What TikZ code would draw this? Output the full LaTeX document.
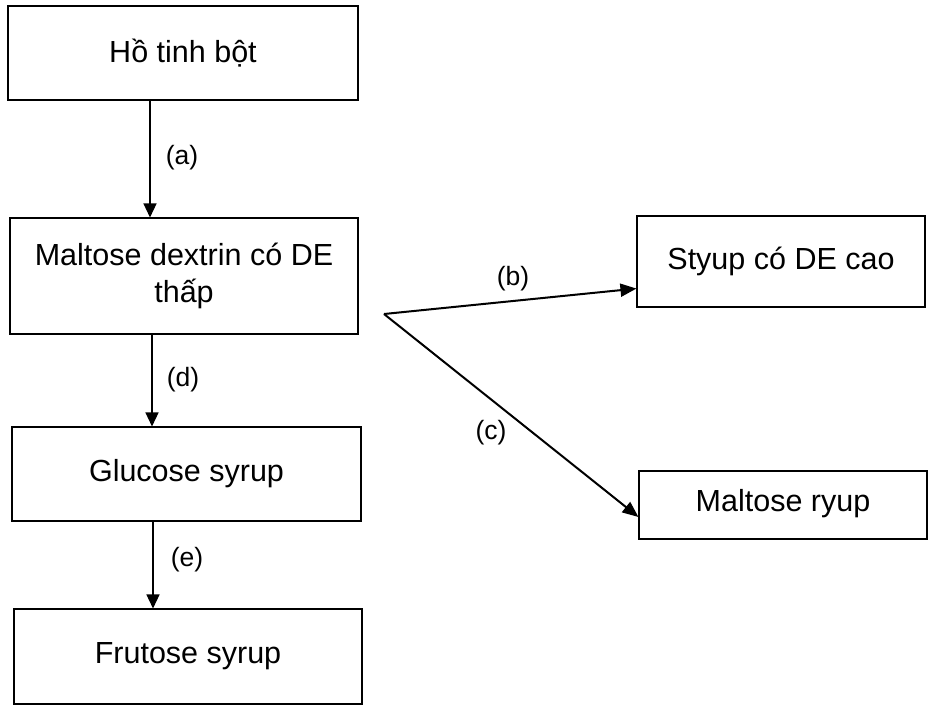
\documentclass[tikz,border=0pt]{standalone}
\usepackage{fontspec}
\setmainfont{Liberation Sans}
\usetikzlibrary{arrows.meta}
\begin{document}
\begin{tikzpicture}[x=1pt,y=-1pt,
  box/.style={draw, line width=1.1pt, inner sep=0pt, align=center, font=\fontsize{30.5}{37}\selectfont},
  lbl/.style={font=\fontsize{26.5}{32}\selectfont, inner sep=0pt},
  arr/.style={line width=1.4pt, -{Triangle[length=14pt,width=13pt]}},
  arrb/.style={line width=2pt, -{Triangle[length=16pt,width=13pt]}}]
\useasboundingbox (0,0) rectangle (933,705);
\node[box, minimum width=350pt, minimum height=94pt] (h) at (183,53) {Hồ tinh bột};
\node[box, minimum width=348pt, minimum height=116pt] (m) at (184,276) {Maltose dextrin có DE\\thấp};
\node[box, minimum width=349pt, minimum height=94pt] (g) at (186.5,474) {Glucose syrup};
\node[box, minimum width=348pt, minimum height=95pt] (f) at (188,656.5) {Frutose syrup};
\node[box, minimum width=288pt, minimum height=91pt] (s) at (781,261.5) {Styup có DE cao};
\node[box, minimum width=288pt, minimum height=68pt, text depth=10pt] (r) at (783,505) {Maltose ryup};
\coordinate (j) at (384,314);
\draw[arr] ([xshift=-33pt]h.south) -- ([xshift=-34pt]m.north);
\draw[arr] ([xshift=-32pt]m.south) -- ([xshift=-34.5pt]g.north);
\draw[arr] ([xshift=-33.5pt]g.south) -- ([xshift=-35pt]f.north);
\draw[arrb] (j) -- ([yshift=19pt]s.south west);
\draw[arrb] (j) -- ([yshift=-12pt]r.west);
\node[lbl] (la) at (182,158) {(a)};
\node[lbl] (ld) at (183,380) {(d)};
\node[lbl] (le) at (187,560) {(e)};
\node[lbl] (lb) at (513,279) {(b)};
\node[lbl] (lc) at (491,433) {(c)};
\end{tikzpicture}
\end{document}
